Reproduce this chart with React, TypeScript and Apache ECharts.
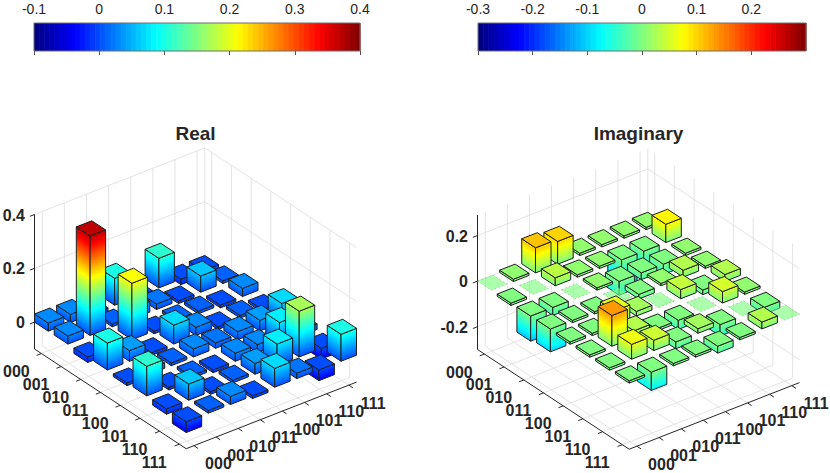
import React, { useEffect, useRef } from 'react';
import * as echarts from 'echarts';

// ---------------- data ----------------
const ROW_LABELS = ['000', '001', '010', '011', '100', '101', '110', '111'];
const COL_LABELS = ['000', '001', '010', '011', '100', '101', '110', '111'];

// Real part of the density matrix (rows = labels along the left edge, cols = labels along the right edge)
const REAL_PART: number[][] = [
  [0.03, 0.03, -0.02, 0.10, -0.01, 0.11, -0.02, -0.04],
  [0.03, 0.37, 0.01, 0.04, 0.02, -0.01, 0.06, 0.01],
  [-0.02, 0.01, 0.21, -0.01, 0.01, 0.01, -0.01, 0.03],
  [0.10, 0.04, -0.01, 0.07, 0.03, -0.01, 0.01, -0.01],
  [-0.01, 0.02, 0.01, 0.03, 0.02, 0.03, 0.04, 0.07],
  [0.11, -0.01, 0.01, -0.01, 0.03, 0.03, 0.08, 0.02],
  [-0.02, 0.06, -0.01, 0.01, 0.04, 0.08, 0.17, -0.04],
  [-0.04, 0.01, 0.03, -0.01, 0.07, 0.02, -0.04, 0.10],
];

// Imaginary part of the density matrix
const IMAG_PART: number[][] = [
  [0, 0.01, 0.11, 0.10, 0.01, 0.01, 0.01, 0.01],
  [-0.01, 0, 0.035, 0.01, 0.01, -0.135, -0.065, 0.08],
  [-0.11, -0.035, 0, 0.01, -0.06, -0.03, -0.045, 0.01],
  [-0.10, -0.01, -0.01, 0, -0.02, 0.01, 0.03, 0.01],
  [-0.01, -0.01, 0.06, 0.02, 0, 0.04, -0.02, 0.03],
  [-0.01, 0.135, 0.03, -0.01, -0.04, 0, 0.05, 0.01],
  [-0.01, 0.065, 0.045, -0.03, 0.02, -0.05, 0, -0.03],
  [-0.01, -0.08, -0.01, -0.01, -0.03, -0.01, 0.03, 0],
];

const REAL_Z_TICKS = [0, 0.2, 0.4];
const IMAG_Z_TICKS = [-0.2, 0, 0.2];
const REAL_COLOR_RANGE = [-0.1, 0.4];
const IMAG_COLOR_RANGE = [-0.3, 0.3];
const REAL_Z_RANGE = [-0.1, 0.4];
const IMAG_Z_RANGE = [-0.3, 0.29];

// ---------------- layout / style ----------------
const FONT = '"Liberation Sans", Arial, Helvetica, sans-serif';
const TXT = '#262626';
const GRID_C = '#dcdcdc';
const PER_R = [19.7, 12.95];
const PER_C = [22.12, -8.65];
const LO = 0.65;
const HI = 8.35;
const HALF_W = 0.35;
const BOX_H = 134.5;
const N_COLORS = 64;

type Plot = {
  ox: number;
  oy: number;
  zr: number[];
  cr: number[];
  zTicks: number[];
  title: string;
};

const LEFT_PLOT: Plot = { ox: 34.5, oy: 349, zr: REAL_Z_RANGE, cr: REAL_COLOR_RANGE, zTicks: REAL_Z_TICKS, title: 'Real' };
const RIGHT_PLOT: Plot = { ox: 477.5, oy: 349.5, zr: IMAG_Z_RANGE, cr: IMAG_COLOR_RANGE, zTicks: IMAG_Z_TICKS, title: 'Imaginary' };

function jetRGB(f: number): number[] {
  const t = Math.max(0, Math.min(1, f));
  const cl = (v: number) => Math.round(255 * Math.max(0, Math.min(1, v)));
  return [
    cl(Math.min(4 * t - 1.5, -4 * t + 4.5)),
    cl(Math.min(4 * t - 0.5, -4 * t + 3.5)),
    cl(Math.min(4 * t + 0.5, -4 * t + 2.5)),
  ];
}
function jet(f: number): string {
  const c = jetRGB(f);
  return `rgb(${c[0]},${c[1]},${c[2]})`;
}

function project(p: Plot, r: number, c: number, z: number): number[] {
  const kz = BOX_H / (p.zr[1] - p.zr[0]);
  return [
    p.ox + (r - LO) * PER_R[0] + (c - LO) * PER_C[0],
    p.oy + (r - LO) * PER_R[1] + (c - LO) * PER_C[1] - (z - p.zr[0]) * kz,
  ];
}

function frac(p: Plot, z: number): number {
  return (z - p.cr[0]) / (p.cr[1] - p.cr[0]);
}

function sideFill(a: number[], b: number[], H: number, z0: number, z1: number, p: Plot): any {
  const f0 = frac(p, z0);
  const f1 = frac(p, z1);
  if (H < 0.5 || Math.abs(f1 - f0) < 1e-6) return jet((f0 + f1) / 2);
  const dx = b[0] - a[0];
  const dy = b[1] - a[1];
  const len = Math.hypot(dx, dy);
  const nx = -dy / len;
  const ny = dx / len;
  const s = -H * ny;
  const x2 = a[0] + nx * s;
  const y2 = a[1] + ny * s;
  const stops: { offset: number; color: string }[] = [{ offset: 0, color: jet(f0) }];
  [0.125, 0.375, 0.625, 0.875].forEach((k) => {
    if (k > Math.min(f0, f1) && k < Math.max(f0, f1)) {
      stops.push({ offset: (k - f0) / (f1 - f0), color: jet(k) });
    }
  });
  stops.push({ offset: 1, color: jet(f1) });
  stops.sort((u, v) => u.offset - v.offset);
  return new echarts.graphic.LinearGradient(a[0], a[1], x2, y2, stops, true);
}

function barData(m: number[][]): number[][] {
  const out: number[][] = [];
  m.forEach((row, i) => row.forEach((v, j) => out.push([i + 1, j + 1, v])));
  out.sort((u, v) => (u[0] - u[1]) - (v[0] - v[1]) || u[0] - v[0]);
  return out;
}

function makeBarRenderer(p: Plot) {
  return (params: any, api: any) => {
    const r = api.value(0);
    const c = api.value(1);
    const v = api.value(2);
    const P = (rr: number, cc: number, z: number) => api.coord(project(p, rr, cc, z));
    const rl = r - HALF_W, rh = r + HALF_W, cl = c - HALF_W, ch = c + HALF_W;
    const z2 = params.dataIndex;
    if (v === 0) {
      return {
        type: 'polygon',
        z2,
        shape: { points: [P(rl, cl, 0), P(rh, cl, 0), P(rh, ch, 0), P(rl, ch, 0)] },
        style: { fill: jet(frac(p, 0)), opacity: 0.65, stroke: '#7fb07f', lineWidth: 0.8, lineDash: [2, 2] },
      };
    }
    const z0 = Math.min(0, v);
    const z1 = Math.max(0, v);
    const lb = P(rl, cl, z0), fb = P(rh, cl, z0), rb = P(rh, ch, z0);
    const lt = P(rl, cl, z1), ft = P(rh, cl, z1), rt = P(rh, ch, z1), bt = P(rl, ch, z1);
    const H = lb[1] - lt[1];
    const edge = { stroke: '#1e1e1e', lineWidth: 1, lineJoin: 'round' };
    return {
      type: 'group',
      children: [
        { type: 'polygon', z2, shape: { points: [lb, fb, ft, lt] }, style: { fill: sideFill(lb, fb, H, z0, z1, p), ...edge } },
        { type: 'polygon', z2, shape: { points: [fb, rb, rt, ft] }, style: { fill: sideFill(fb, rb, H, z0, z1, p), ...edge } },
        { type: 'polygon', z2, shape: { points: [lt, ft, rt, bt] }, style: { fill: jet(frac(p, z1)), ...edge } },
      ],
    };
  };
}

function makeBoxRenderer(p: Plot) {
  return (_params: any, api: any) => {
    const P = (r: number, c: number, z: number) => api.coord(project(p, r, c, z));
    const zmin = p.zr[0], zmax = p.zr[1];
    const kids: any[] = [];
    const seg = (a: number[], b: number[], stroke: string, w: number) =>
      kids.push({ type: 'line', shape: { x1: a[0], y1: a[1], x2: b[0], y2: b[1] }, style: { stroke, lineWidth: w } });
    const text = (s: string, x: number, y: number, align: string, size: number, weight: string) =>
      kids.push({
        type: 'text', x, y,
        style: { text: s, fill: TXT, fontSize: size, fontWeight: weight, fontFamily: FONT, align, verticalAlign: 'middle' },
      });
    // grid lines
    ROW_LABELS.forEach((_, i) => {
      const k = i + 1;
      seg(P(k, LO, zmin), P(k, HI, zmin), GRID_C, 0.8);
      seg(P(k, HI, zmin), P(k, HI, zmax), GRID_C, 0.8);
    });
    COL_LABELS.forEach((_, i) => {
      const k = i + 1;
      seg(P(LO, k, zmin), P(HI, k, zmin), GRID_C, 0.8);
      seg(P(LO, k, zmin), P(LO, k, zmax), GRID_C, 0.8);
    });
    p.zTicks.forEach((z) => {
      seg(P(LO, LO, z), P(LO, HI, z), GRID_C, 0.8);
      seg(P(LO, HI, z), P(HI, HI, z), GRID_C, 0.8);
    });
    seg(P(LO, HI, zmin), P(LO, HI, zmax), GRID_C, 0.8);
    // axis lines
    seg(P(LO, LO, zmin), P(LO, LO, zmax), TXT, 1);
    seg(P(LO, LO, zmin), P(HI, LO, zmin), TXT, 1);
    seg(P(HI, LO, zmin), P(HI, HI, zmin), TXT, 1);
    // ticks + labels
    const tl = 5;
    ROW_LABELS.forEach((lab, i) => {
      const b = P(i + 1, LO, zmin);
      seg(b, [b[0] - 0.931 * tl, b[1] + 0.366 * tl], TXT, 1);
      text(lab, b[0] - 25, b[1] + 18, 'center', 16, 'bold');
    });
    COL_LABELS.forEach((lab, i) => {
      const b = P(HI, i + 1, zmin);
      seg(b, [b[0] + 0.835 * tl, b[1] + 0.55 * tl], TXT, 1);
      text(lab, b[0] + 24.5, b[1] + 18, 'center', 16, 'bold');
    });
    p.zTicks.forEach((z) => {
      const b = P(LO, LO, z);
      seg(b, [b[0] - 0.931 * tl, b[1] + 0.366 * tl], TXT, 1);
      text(z === 0 ? '0' : String(z), b[0] - 9.5, b[1] + 0.5, 'right', 16, 'bold');
    });
    const a = P(LO, LO, zmin), c = P(HI, HI, zmin);
    text(p.title, (a[0] + c[0]) / 2, 133, 'center', 19, 'bold');
    return { type: 'group', children: kids };
  };
}

function colorBins(range: number[]): number[][] {
  const out: number[][] = [];
  const w = (range[1] - range[0]) / N_COLORS;
  for (let i = 0; i < N_COLORS; i++) out.push([range[0] + i * w, range[0] + (i + 1) * w, i]);
  return out;
}

function cbarAxis(gridIndex: number, range: number[], showMax: boolean) {
  return {
    gridIndex,
    type: 'value',
    position: 'top',
    min: range[0],
    max: range[1],
    interval: 0.1,
    axisLine: { show: false },
    axisTick: { show: true, inside: true, length: 4, lineStyle: { color: TXT, width: 0.8 } },
    axisLabel: { show: true, fontSize: 14, color: TXT, fontFamily: FONT, margin: 7, showMaxLabel: showMax, showMinLabel: true },
    splitLine: { show: false },
  };
}

function cbarSeries(idx: number, range: number[]) {
  return [
    {
      type: 'custom',
      coordinateSystem: 'cartesian2d',
      xAxisIndex: idx,
      yAxisIndex: idx,
      silent: true,
      z: 2,
      data: colorBins(range),
      renderItem: (_p: any, api: any) => {
        const p0 = api.coord([api.value(0), 1]);
        const p1 = api.coord([api.value(1), 0]);
        return {
          type: 'rect',
          shape: { x: p0[0], y: p0[1], width: p1[0] - p0[0] + 0.6, height: p1[1] - p0[1] },
          style: { fill: jet((api.value(2) + 0.5) / N_COLORS) },
        };
      },
    },
    {
      type: 'custom',
      coordinateSystem: 'cartesian2d',
      xAxisIndex: idx,
      yAxisIndex: idx,
      silent: true,
      z: 4,
      data: [[range[0], range[1]]],
      renderItem: (_p: any, api: any) => {
        const p0 = api.coord([api.value(0), 1]);
        const p1 = api.coord([api.value(1), 0]);
        return {
          type: 'rect',
          shape: { x: p0[0], y: p0[1], width: p1[0] - p0[0], height: p1[1] - p0[1] },
          style: { fill: 'none', stroke: '#6f6f6f', lineWidth: 1 },
        };
      },
    },
  ];
}

function buildOption(): any {
  return {
    animation: false,
    backgroundColor: '#ffffff',
    textStyle: { fontFamily: FONT },
    grid: [
      { left: 34, top: 23, width: 326, height: 28 },
      { left: 478, top: 23, width: 328, height: 28 },
      { left: 0, top: 0, width: 830, height: 473 },
    ],
    xAxis: [
      cbarAxis(0, REAL_COLOR_RANGE, true),
      cbarAxis(1, IMAG_COLOR_RANGE, false),
      { gridIndex: 2, type: 'value', min: 0, max: 830, show: false },
    ],
    yAxis: [
      { gridIndex: 0, type: 'value', min: 0, max: 1, show: false },
      { gridIndex: 1, type: 'value', min: 0, max: 1, show: false },
      { gridIndex: 2, type: 'value', min: 0, max: 473, inverse: true, show: false },
    ],
    series: [
      ...cbarSeries(0, REAL_COLOR_RANGE),
      ...cbarSeries(1, IMAG_COLOR_RANGE),
      {
        type: 'custom', coordinateSystem: 'cartesian2d', xAxisIndex: 2, yAxisIndex: 2, silent: true, z: 2,
        data: [[0, 0]], renderItem: makeBoxRenderer(LEFT_PLOT),
      },
      {
        type: 'custom', coordinateSystem: 'cartesian2d', xAxisIndex: 2, yAxisIndex: 2, silent: true, z: 2,
        data: [[0, 0]], renderItem: makeBoxRenderer(RIGHT_PLOT),
      },
      {
        type: 'custom', coordinateSystem: 'cartesian2d', xAxisIndex: 2, yAxisIndex: 2, silent: true, z: 3,
        data: barData(REAL_PART), renderItem: makeBarRenderer(LEFT_PLOT),
      },
      {
        type: 'custom', coordinateSystem: 'cartesian2d', xAxisIndex: 2, yAxisIndex: 2, silent: true, z: 3,
        data: barData(IMAG_PART), renderItem: makeBarRenderer(RIGHT_PLOT),
      },
    ],
  };
}

export default function App() {
  const ref = useRef<HTMLDivElement>(null);
  useEffect(() => {
    if (!ref.current) return undefined;
    const chart = echarts.init(ref.current, undefined, { renderer: 'svg' });
    chart.setOption(buildOption());
    return () => chart.dispose();
  }, []);
  return (
    <div
      ref={ref}
      style={{ position: 'absolute', left: 0, top: 0, width: 830, height: 473, background: '#ffffff' }}
    />
  );
}
